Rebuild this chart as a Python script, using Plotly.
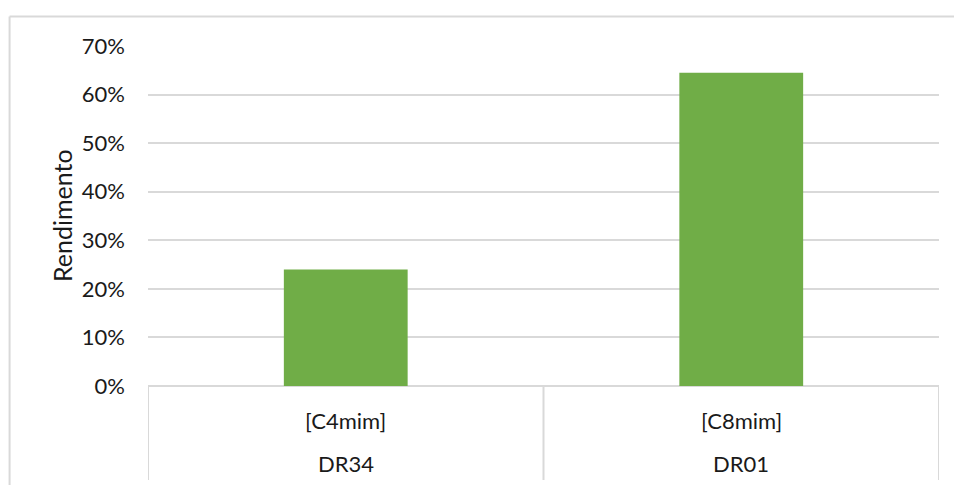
import plotly.graph_objects as go

# Data
solvents = ["[C4mim]", "[C8mim]"]
samples = ["DR34", "DR01"]
rendimento = [0.24, 0.645]
y_ticks = [0, 0.1, 0.2, 0.3, 0.4, 0.5, 0.6, 0.7]

GRID = "#D9D9D9"
TEXT = "#1a1a1a"
FONT = "Lato"
FS = 22

positions = list(range(len(solvents)))

fig = go.Figure(
    go.Bar(
        x=positions,
        y=rendimento,
        width=0.313,
        marker=dict(color="#70AD47", line=dict(width=0)),
        hoverinfo="skip",
    )
)

PLOT_H = 485 - 46 - 99
shapes = []
# vertical dividers of the two-level category axis
for xv in [-0.5, 0.5, 1.5]:
    shapes.append(dict(
        type="line", xref="x", yref="paper",
        x0=xv, x1=xv, y0=0, y1=-94 / PLOT_H,
        line=dict(color=GRID, width=2), layer="below",
    ))
# horizontal axis baseline
shapes.append(dict(type="line", xref="x", yref="paper",
                   x0=-0.5, x1=1.5, y0=0, y1=0,
                   line=dict(color=GRID, width=2), layer="below"))
# chart frame (left and top edges)
shapes.append(dict(type="line", xref="paper", yref="paper",
                   x0=-0.175, x1=-0.175, y0=-0.5, y1=1.087,
                   line=dict(color=GRID, width=2)))
shapes.append(dict(type="line", xref="paper", yref="paper",
                   x0=-0.175, x1=1.2, y0=1.087, y1=1.087,
                   line=dict(color=GRID, width=2)))

annotations = []
for i, (s, d) in enumerate(zip(solvents, samples)):
    annotations.append(dict(x=i, y=0, xref="x", yref="y", text=s, showarrow=False,
                            yshift=-34, yanchor="middle",
                            font=dict(family=FONT, size=FS, color=TEXT)))
    annotations.append(dict(x=i, y=0, xref="x", yref="y", text=d, showarrow=False,
                            yshift=-77, yanchor="middle",
                            font=dict(family=FONT, size=FS, color=TEXT)))
annotations.append(dict(x=-0.1087, y=0.5, xref="paper", yref="paper",
                        text="Rendimento", textangle=-90, showarrow=False,
                        xanchor="center", yanchor="middle",
                        font=dict(family=FONT, size=25, color=TEXT)))

fig.update_layout(
    width=954, height=485,
    margin=dict(l=148, r=15, t=46, b=99),
    paper_bgcolor="white", plot_bgcolor="white",
    showlegend=False,
    shapes=shapes,
    annotations=annotations,
    xaxis=dict(range=[-0.5, 1.5], showticklabels=False, showgrid=False,
               zeroline=False, showline=False, fixedrange=True),
    yaxis=dict(range=[0, 0.7], tickvals=y_ticks, tickformat=".0%",
               showgrid=True, gridcolor=GRID, gridwidth=2,
               zeroline=False, showline=False, ticks="",
               ticklabelstandoff=22,
               tickfont=dict(family=FONT, size=FS, color=TEXT),
               fixedrange=True),
)

fig.write_html("out.html")
